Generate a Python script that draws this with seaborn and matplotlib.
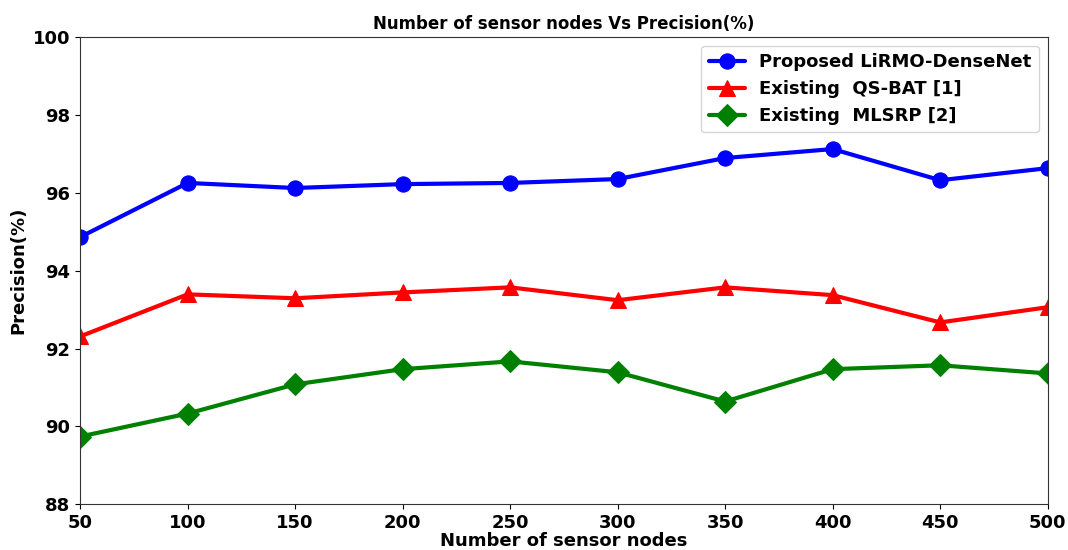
import pandas as pd
import matplotlib
matplotlib.use('Agg')
import matplotlib.pyplot as plt
import seaborn as sns

# Values
nodes = [50, 100, 150, 200, 250, 300, 350, 400, 450, 500]
proposed = [94.86, 96.25, 96.12, 96.22, 96.25, 96.35, 96.89, 97.12, 96.32, 96.63]
qs_bat = [92.31, 93.39, 93.29, 93.44, 93.57, 93.24, 93.57, 93.37, 92.67, 93.06]
mlsrp = [89.74, 90.33, 91.08, 91.47, 91.67, 91.39, 90.64, 91.47, 91.57, 91.36]

series_names = ['Proposed LiRMO-DenseNet', 'Existing  QS-BAT [1]', 'Existing  MLSRP [2]']
colors = ['blue', 'red', 'green']
markers = ['o', '^', 'D']

sns.set_style('ticks')
plt.rcParams['font.family'] = ['DejaVu Sans']
plt.rcParams['font.weight'] = 'bold'
plt.rcParams['text.color'] = 'black'
plt.rcParams['axes.labelcolor'] = 'black'
plt.rcParams['xtick.color'] = 'black'
plt.rcParams['ytick.color'] = 'black'

fig, ax = plt.subplots(figsize=(10.68, 5.5), dpi=100)

for vals, name, c, m in zip([proposed, qs_bat, mlsrp], series_names, colors, markers):
    df = pd.DataFrame({'Nodes': nodes, 'Precision': vals})
    sns.lineplot(data=df, x='Nodes', y='Precision', ax=ax, color=c, marker=m,
                 markersize=11, markeredgecolor=c, linewidth=3, label=name)

ax.set_xlim(50, 500)
ax.set_ylim(88, 100)
ax.set_xticks(nodes)
ax.set_yticks([88, 90, 92, 94, 96, 98, 100])
ax.tick_params(labelsize=13)
for lbl in ax.get_xticklabels() + ax.get_yticklabels():
    lbl.set_fontweight('bold')

ax.set_title('Number of sensor nodes Vs Precision(%)', fontsize=12, fontweight='bold', color='black')
ax.set_xlabel('Number of sensor nodes', fontsize=13, fontweight='bold', labelpad=0)
ax.set_ylabel('Precision(%)', fontsize=13, fontweight='bold')

for s in ax.spines.values():
    s.set_color('#333333')

leg = ax.legend(loc='upper right', prop={'weight': 'bold', 'size': 13})
for t in leg.get_texts():
    t.set_color('black')

plt.subplots_adjust(left=0.075, right=0.981, top=0.933, bottom=0.083)
plt.savefig('out.png', dpi=100)
